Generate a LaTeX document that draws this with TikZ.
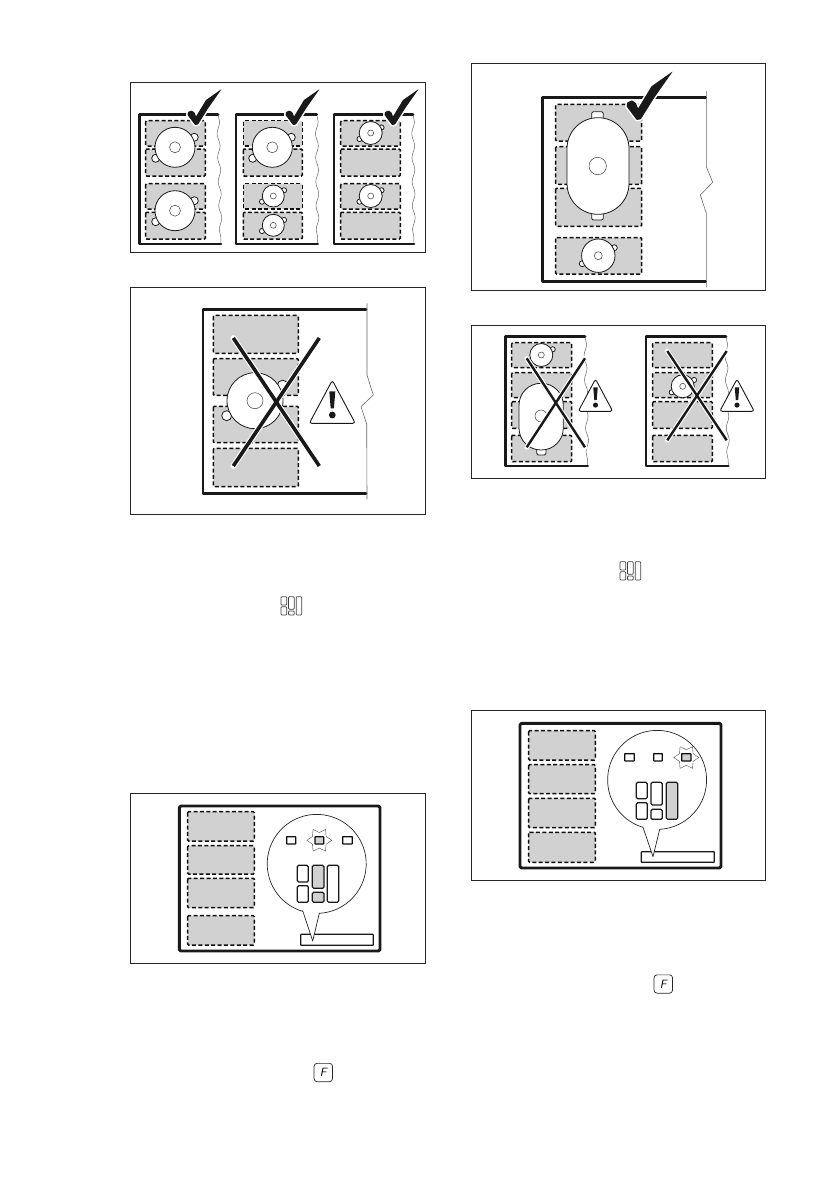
\documentclass[tikz,border=0pt]{standalone}
\usepackage{tikz}
\usetikzlibrary{shapes.geometric,decorations.pathmorphing}
\definecolor{zonegray}{gray}{0.82}

\newcommand{\hobzone}[4]{\draw[zone] (#1,#2) rectangle (#3,#4);}
% pot: centre, radius, inner radius
\newcommand{\potbody}[4]{\draw[pot] (#1,#2) circle (#3); \draw[potcore] (#1,#2) circle (#4);}
\newcommand{\lug}[3]{\draw[pot] (#1,#2) circle (#3);}
% cross: width, left, right, top, bottom
\newcommand{\crossout}[5]{
  \draw[line width=#1+2.2pt,white,line cap=round] (#2,#4) -- (#3,#5);
  \draw[line width=#1+2.2pt,white,line cap=round] (#2,#5) -- (#3,#4);
  \draw[line width=#1,black!90] (#2,#4) -- (#3,#5);
  \draw[line width=#1,black!90] (#2,#5) -- (#3,#4);
}
\newcommand{\tickmark}[3]{
  \begin{scope}[shift={(#1,#2)},scale=#3]
    \path[tickhalo] (0,0) -- (-7.5,-10) -- (-7,-13) -- (-3.5,-14.5) -- (-0.5,-12.5) -- (1,-8.5) -- (11,-25) -- (26.7,-36) -- (13,-16.5) -- (3,-0.5) -- cycle;
    \fill[black!90,rounded corners=0.6pt] (0,0) -- (-7.5,-10) -- (-7,-13) -- (-3.5,-14.5) -- (-0.5,-12.5) -- (1,-8.5) -- (11,-25) -- (26.7,-36) -- (13,-16.5) -- (3,-0.5) -- cycle;
  \end{scope}
}
\newcommand{\warnsign}[3]{
  \begin{scope}[shift={(#1,#2)},scale=#3]
    \draw[warning] (0,-43) -- (23,0) -- (-23,0) -- cycle;
    \fill[black!90] (-3,-32) -- (3,-32) -- (1.6,-15) -- (-1.6,-15) -- cycle;
    \fill[black!90] (0,-8.3) circle (3.4);
  \end{scope}
}
\newcommand{\panelicon}[2]{
  \begin{scope}[shift={(#1,#2)}]
    \draw[iconline] (0,0) rectangle (5.7,8.3);
    \draw[iconline] (0,10) rectangle (5.7,18.3);
    \draw[iconline] (7.5,0) rectangle (13.2,12.5);
    \draw[iconline] (7.5,14.3) rectangle (13.2,18.3);
    \draw[iconline] (15.2,0) rectangle (20.7,18.3);
  \end{scope}
}

\begin{document}
\begin{tikzpicture}[
  x=1pt,y=-1pt,
  panel/.style={draw=black!85, line width=0.7pt},
  hob/.style={draw=black!90, line width=2.9pt, line join=round, line cap=round},
  hobrim/.style={draw=black!60, line width=0.6pt},
  rimwave/.style={draw=black!60, line width=0.5pt, decorate, decoration={snake,segment length=24pt,amplitude=1.4pt}},
  zone/.style={draw=black!95, fill=zonegray, line width=1.5pt, dash pattern=on 4pt off 2.4pt, rounded corners=1pt},
  pot/.style={draw=black!90, fill=white, line width=0.8pt},
  potcore/.style={draw=black!75, fill=white, line width=0.5pt},
  tickhalo/.style={draw=white, fill=white, line width=3pt, line join=round},
  warning/.style={draw=black!90, fill=white, line width=0.9pt, rounded corners=2.5pt},
  iconline/.style={draw=black!75, line width=0.7pt, rounded corners=0.8pt},
  fkey/.style={draw=black!85, line width=0.7pt, rounded corners=3pt, minimum width=18.5pt, minimum height=18.3pt, inner sep=0pt, font=\sffamily\itshape\fontsize{12}{12}\selectfont},
  balloon/.style={draw=black!85, fill=white, line width=0.7pt, line join=round},
  ctrl/.style={draw=black!90, line width=1.2pt, rounded corners=1.4pt},
  lamp/.style={draw=black!95, fill=white, line width=1.3pt, rounded corners=0.5pt},
  spark/.style={draw=black!70, fill=white, line width=0.4pt, star, star points=6, star point ratio=1.6, shape border rotate=90, minimum size=25pt, inner sep=0pt},
  slot/.style={draw=black!90, fill=white, line width=1.2pt, rounded corners=0.6pt}
]
  \useasboundingbox (0,0) rectangle (839,1191);

  % three allowed layouts
  \draw[panel] (130.5,82.5) rectangle (425.7,252);
  \draw[rimwave] (218,114.3) -- (221,244);
  \draw[rimwave] (316.7,114.3) -- (317.7,244);
  \draw[rimwave] (413,114.3) -- (414,244);
  \draw[hob] (218,114.3) -- (139.5,114.3) -- (139.5,244) -- (221,244);
  \draw[hob] (316.7,114.3) -- (236,114.3) -- (236,244) -- (317.7,244);
  \draw[hob] (413,114.3) -- (334,114.3) -- (334,244) -- (414,244);

  \hobzone{145.7}{120.7}{205.3}{146}
  \hobzone{145.7}{149}{205.3}{176}
  \hobzone{145.7}{183.7}{205.3}{209}
  \hobzone{145.7}{212.3}{205.3}{239}
  \lug{194.3}{137.3}{4} \lug{155.7}{158.3}{4}
  \potbody{175}{147.3}{20}{5.5}
  \lug{194.3}{200.7}{4} \lug{155.7}{221.7}{4}
  \potbody{175}{210.7}{20}{5.5}

  \hobzone{243.3}{120.7}{302.3}{146}
  \hobzone{243.3}{149}{302.3}{176}
  \hobzone{243.3}{183.7}{302.3}{209}
  \hobzone{243.3}{212.3}{302.3}{239}
  \lug{291.3}{137.3}{4} \lug{252.7}{158.3}{4}
  \potbody{272.3}{147.3}{20}{5.5}
  \lug{284}{190.3}{2.6} \lug{262}{201.7}{2.6}
  \potbody{273.3}{196}{11}{3}
  \lug{284}{220}{2.6} \lug{262}{231}{2.6}
  \potbody{273.3}{225.3}{11}{3}

  \hobzone{340.7}{120.7}{400.3}{146}
  \hobzone{340.7}{149}{400.3}{176}
  \hobzone{340.7}{183.7}{400.3}{209}
  \hobzone{340.7}{212.3}{400.3}{239}
  \lug{381.5}{127.5}{2.6} \lug{359.5}{139}{2.6}
  \potbody{370.7}{133}{11.5}{3}
  \lug{381.5}{190.3}{2.6} \lug{359.5}{201.7}{2.6}
  \potbody{370.7}{196}{11.5}{3}

  \tickmark{195}{125}{1}
  \tickmark{293}{125}{1}
  \tickmark{392}{125}{1}

  % big pot across the gap
  \draw[panel] (130.5,287.3) rectangle (425.7,514.3);
  \draw[hobrim] (367,303.3) -- (367,375) -- (373.3,395) -- (361,406.7) -- (366.7,424) -- (367,499.3);
  \draw[hob] (366,309.3) -- (203,309.3) -- (203,493.3) -- (366,493.3);
  \hobzone{213.3}{315.3}{298.3}{353.3}
  \hobzone{213.3}{358.7}{298.3}{395.3}
  \hobzone{213.3}{406.3}{298.3}{442.7}
  \hobzone{213.3}{448.3}{298.3}{486.7}
  \lug{226.7}{415.7}{5} \lug{282.7}{385.7}{5.5}
  \potbody{255}{400.7}{28}{8}
  \crossout{3.6pt}{233.3}{319.3}{338}{466}
  \warnsign{332.3}{423.3}{1}

  % oval pot allowed
  \draw[panel] (471.7,63.3) rectangle (765.3,290.7);
  \draw[hobrim] (706.3,91) -- (706.3,166.7) -- (712.7,182.3) -- (700.3,195) -- (706.3,213.3) -- (706.3,287.3);
  \draw[hob] (705.5,97.3) -- (542.3,97.3) -- (542.3,281.7) -- (705.5,281.7);
  \hobzone{555.7}{104.3}{641.7}{141}
  \hobzone{555.7}{146.7}{641.7}{184.3}
  \hobzone{555.7}{188.3}{641.7}{226.3}
  \hobzone{555.7}{237.7}{641.7}{274}
  \draw[pot,rounded corners=2pt] (591.7,111.7) rectangle (603.3,123);
  \draw[pot,rounded corners=2pt] (591.7,209) rectangle (603.3,220);
  \draw[pot,rounded corners=30.9pt] (567,117.7) rectangle (629,214.3);
  \draw[potcore] (597.7,166) circle (8.7);
  \lug{614.3}{247.7}{3} \lug{582.3}{263.7}{3}
  \potbody{598.3}{255.7}{16.7}{4}
  \tickmark{636.7}{120}{1.35}

  % two forbidden layouts
  \draw[panel] (471.7,325) rectangle (765.3,478.7);
  \draw[rimwave] (585,336.7) -- (587.7,466);
  \draw[rimwave] (726,336.7) -- (728.3,466);
  \draw[hob] (585,336.7) -- (505.3,336.7) -- (505.3,466) -- (587.7,466);
  \draw[hob] (726,336.7) -- (646,336.7) -- (646,466) -- (728.3,466);

  \hobzone{511.7}{342.7}{571.7}{367.7}
  \hobzone{511.7}{372.7}{571.7}{397.7}
  \hobzone{511.7}{401.7}{571.7}{428.3}
  \hobzone{511.7}{435.3}{571.7}{461.7}
  \lug{552.7}{349.3}{2.6} \lug{530.5}{361}{2.6}
  \potbody{541.3}{355}{11.5}{3}
  \draw[pot,rounded corners=1.5pt] (536.7,445) rectangle (546,455);
  \draw[pot,rounded corners=21.9pt] (519,383.3) rectangle (563.3,450);
  \draw[potcore] (541,416) circle (6);
  \crossout{2.4pt}{526.7}{585}{358.3}{447.3}
  \warnsign{595.5}{411.3}{0.75}

  \hobzone{652.7}{342.7}{712.3}{367.7}
  \hobzone{652.7}{372.7}{712.3}{397.7}
  \hobzone{652.7}{401.7}{712.3}{428.3}
  \hobzone{652.7}{435.3}{712.3}{461.7}
  \lug{694}{380}{2.6} \lug{671.7}{392.3}{2.6}
  \potbody{682.7}{386.3}{11.5}{3}
  \crossout{2.4pt}{667.3}{726.7}{351}{440.3}
  \warnsign{737}{411.3}{0.75}

  % keys in the running text
  \panelicon{281}{596.7}
  \panelicon{620}{561.7}
  \node[fkey] (keyleft) at (323.3,1072.5) {F};
  \node[fkey] (keyright) at (663.3,984) {F};

  % control panel, middle zone selected
  \draw[panel] (130.5,793.3) rectangle (425.7,963.3);
  \draw[hob,rounded corners=1.5pt] (179.3,806) rectangle (380,951);
  \hobzone{187.7}{811.7}{254.3}{841}
  \hobzone{187.7}{845.7}{254.3}{874}
  \hobzone{187.7}{878.3}{254.3}{907.7}
  \hobzone{187.7}{915.7}{254.3}{945}
  \draw[slot] (300.7,934.3) rectangle (373.3,945.3);
  \draw[balloon] (302.7,910.7) -- (312.7,941) -- (319.3,913.3) arc[start angle=87,end angle=-253.5,radius=49.5] -- cycle;
  \draw[lamp] (286.7,836.7) rectangle (295.7,844);
  \draw[lamp] (342.7,836.7) rectangle (352.3,844);
  \node[spark] (sparkleft) at (319.3,840.3) {};
  \draw[lamp,fill=zonegray] (315,836.7) rectangle (323.7,844);
  \draw[ctrl] (297.3,865.3) rectangle (308.3,882);
  \draw[ctrl] (297.3,885.7) rectangle (308.3,902.3);
  \draw[ctrl,fill=zonegray] (312.3,865.3) rectangle (324,888.3);
  \draw[ctrl,fill=zonegray] (312.3,892.3) rectangle (324,902.3);
  \draw[ctrl] (327.3,865.3) rectangle (338.7,902.3);

  % control panel, right zone selected
  \draw[panel] (471.7,710) rectangle (765.3,880);
  \draw[hob,rounded corners=1.5pt] (520,723.3) rectangle (721,868);
  \hobzone{528.7}{730.7}{595.3}{760}
  \hobzone{528.7}{764.7}{595.3}{793.7}
  \hobzone{528.7}{798.3}{595.3}{827.7}
  \hobzone{528.7}{832.3}{595.3}{862.3}
  \draw[slot] (641.3,851.7) rectangle (714.3,862.3);
  \draw[balloon] (643,827.3) -- (653,856.7) -- (659.7,829.3) arc[start angle=87,end angle=-253.5,radius=49.5] -- cycle;
  \draw[lamp] (624.7,753.7) rectangle (634.3,761);
  \draw[lamp] (653.7,753.7) rectangle (662.3,761);
  \node[spark] (sparkright) at (686.3,757.5) {};
  \draw[lamp,fill=zonegray] (681.7,753.7) rectangle (691,761);
  \draw[ctrl] (636.3,782.3) rectangle (647.3,798.7);
  \draw[ctrl] (636.3,802.7) rectangle (647.3,819.3);
  \draw[ctrl] (651,782.3) rectangle (662.3,805);
  \draw[ctrl] (651,809.3) rectangle (662.3,819.3);
  \draw[ctrl,fill=zonegray] (666.3,782.3) rectangle (677.7,819.3);
\end{tikzpicture}
\end{document}
